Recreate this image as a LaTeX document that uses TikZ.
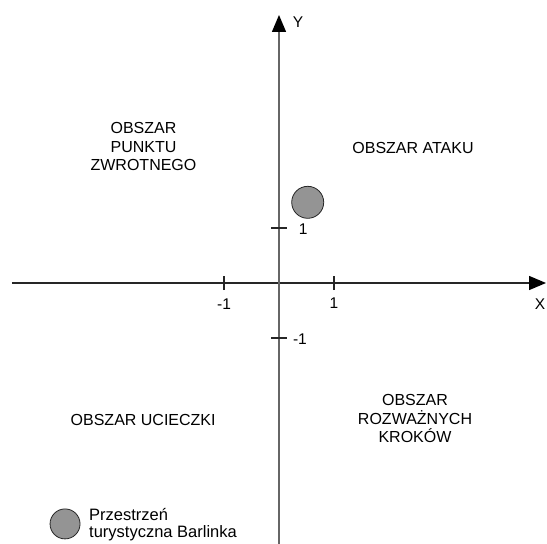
\documentclass[tikz,border=0pt]{standalone}
\usepackage{fontspec}
\setmainfont{Liberation Sans}
\usetikzlibrary{arrows.meta}

\tikzset{
	axis/.style={line width=1.4pt, -{Triangle[length=17pt,width=14pt,color=black]}},
	tickmark/.style={line width=1.2pt, draw=black!85},
	ticktext/.style={font=\fontsize{15.5}{18}\selectfont},
	region/.style={align=center, font=\fontsize{16}{18.5}\selectfont},
	spot/.style={circle, draw=black!85, line width=0.8pt, fill=black!42, inner sep=0pt},
}

\begin{document}
\begin{tikzpicture}[x=55pt,y=55pt]
	\useasboundingbox (-5.0727,-4.7273) rectangle (4.8727,5.1455);
	% axes
	\coordinate (X0) at (-4.855, 0);
	\coordinate (X1) at ( 4.855, 0);
	\coordinate (Y0) at ( 0, -4.75);
	\coordinate (Y1) at ( 0,  4.873);
	\draw[axis, draw=black!85] (X0) -- (X1);
	\draw[axis, draw=black!60] (Y0) -- (Y1);
	\node (XL) at (4.745, -0.38)	[ticktext]	{X};
	\node (YL) at (0.345, 4.745)	[ticktext]	{Y};
	% ticks
	\foreach \t in {-1,1} {
		\draw[tickmark] (\t, -0.13) -- (\t, 0.13);
		\draw[tickmark] (-0.145, \t) -- (0.145, \t);
	}
	\node (XM) at (-1.00, -0.39)	[ticktext]	{-1};
	\node (XP) at ( 1.00, -0.37)	[ticktext]	{1};
	\node (YP) at ( 0.44,  0.98)	[ticktext]	{1};
	\node (YM) at ( 0.38, -1.02)	[ticktext]	{-1};
	% regions
	\node (R1) at (-2.464,  2.473)	[region]	{OBSZAR\\PUNKTU\\ZWROTNEGO};
	\node (R2) at ( 2.436,  2.455)	[region]	{OBSZAR ATAKU};
	\node (R3) at (-2.470, -2.491)	[region]	{OBSZAR UCIECZKI};
	\node (R4) at ( 2.473, -2.467)	[region]	{OBSZAR\\ROZWAŻNYCH\\KROKÓW};
	% Barlinek
	\node (B)  at ( 0.522,  1.467)	[spot, minimum size=32pt]	{};
	% legend
	\node (LB) at (-3.89, -4.38)	[spot, minimum size=30pt]	{};
	\node (LT) at (-3.455, -4.39)	[region, align=left, anchor=west, inner sep=0pt,
		font=\fontsize{16.5}{17}\selectfont]	{Przestrzeń\\turystyczna Barlinka};
\end{tikzpicture}
\end{document}
